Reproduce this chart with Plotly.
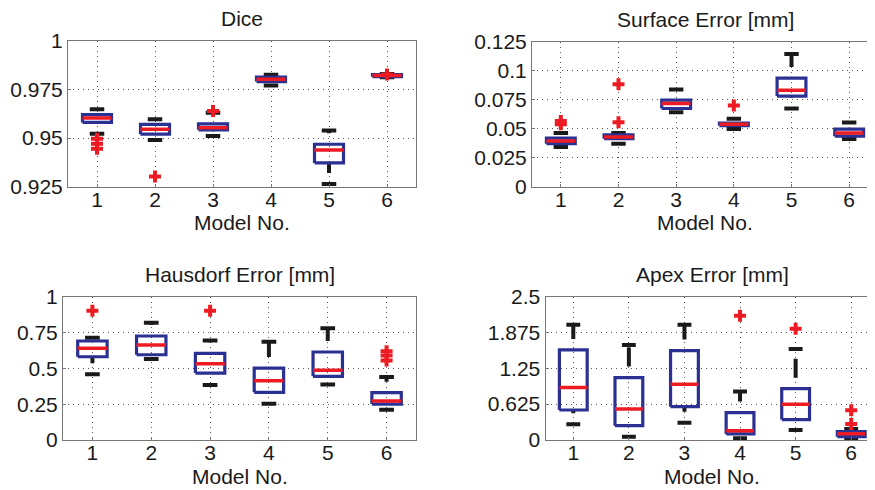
import plotly.graph_objects as go

W, H = 875, 490
OFF = 8  # page body margin of the rendered html (px)

models = [1, 2, 3, 4, 5, 6]

# ---- Dice ----
dice_q1 = [0.958, 0.952, 0.9542, 0.979, 0.9372, 0.9815]
dice_med = [0.9603, 0.9545, 0.9553, 0.9802, 0.9439, 0.9821]
dice_q3 = [0.962, 0.957, 0.9573, 0.9813, 0.9468, 0.9826]
dice_lo = [0.9522, 0.949, 0.951, 0.977, 0.9264, 0.9812]
dice_hi = [0.9648, 0.9597, 0.963, 0.9825, 0.9539, 0.9829]
dice_out = [[0.9496, 0.947, 0.9445], [0.9302], [0.9639], [], [], [0.9826]]
dice_ticks = [0.925, 0.95, 0.975, 1]
dice_ticklabels = ["0.925", "0.95", "0.975", "1"]

# ---- Surface Error ----
surf_q1 = [0.037, 0.0413, 0.0673, 0.0525, 0.078, 0.0435]
surf_med = [0.0393, 0.0427, 0.0716, 0.0537, 0.0831, 0.0463]
surf_q3 = [0.0419, 0.0447, 0.0745, 0.0548, 0.0935, 0.0495]
surf_lo = [0.0341, 0.037, 0.0641, 0.0497, 0.0673, 0.041]
surf_hi = [0.0462, 0.0462, 0.0837, 0.0586, 0.1142, 0.0552]
surf_out = [[0.0566, 0.0537], [0.0883, 0.0554], [], [0.0699], [], []]
surf_ticks = [0, 0.025, 0.05, 0.075, 0.1, 0.125]
surf_ticklabels = ["0", "0.025", "0.05", "0.075", "0.1", "0.125"]

# ---- Hausdorf Error ----
haus_q1 = [0.581, 0.595, 0.467, 0.333, 0.444, 0.251]
haus_med = [0.6395, 0.663, 0.5326, 0.414, 0.486, 0.272]
haus_q3 = [0.691, 0.7256, 0.605, 0.502, 0.614, 0.330]
haus_lo = [0.458, 0.565, 0.384, 0.2535, 0.388, 0.2116]
haus_hi = [0.714, 0.819, 0.695, 0.686, 0.779, 0.44]
haus_out = [[0.902], [], [0.902], [], [], [0.62, 0.59, 0.555]]
haus_ticks = [0, 0.25, 0.5, 0.75, 1]
haus_ticklabels = ["0", "0.25", "0.5", "0.75", "1"]

# ---- Apex Error ----
apex_q1 = [0.523, 0.25, 0.581, 0.105, 0.355, 0.058]
apex_med = [0.913, 0.541, 0.971, 0.163, 0.622, 0.11]
apex_q3 = [1.57, 1.087, 1.558, 0.477, 0.895, 0.145]
apex_lo = [0.273, 0.058, 0.302, 0.029, 0.174, 0.02]
apex_hi = [2.006, 1.657, 2.006, 0.843, 1.587, 0.19]
apex_out = [[], [], [], [2.163], [1.936], [0.52, 0.28]]
apex_ticks = [0, 0.625, 1.25, 1.875, 2.5]
apex_ticklabels = ["0", "0.625", "1.25", "1.875", "2.5"]

titles = ["Dice", "Surface Error [mm]", "Hausdorf Error [mm]", "Apex Error [mm]"]
xlabel = "Model No."

BLUE = "#2b3192"
RED = "#ed1c24"
BLACK = "#1a1a1a"
GRID = "#555555"
AXIS = "#777777"
FONT = "Arial, Liberation Sans, Helvetica, sans-serif"

# axes boxes in screen pixels (left, right), (top, bottom)
panels = [
    dict(q1=dice_q1, med=dice_med, q3=dice_q3, lo=dice_lo, hi=dice_hi, out=dice_out,
         ticks=dice_ticks, labels=dice_ticklabels, yr=[0.925, 1.0],
         xpx=(68, 416), ypx=(40.7, 186.7)),
    dict(q1=surf_q1, med=surf_med, q3=surf_q3, lo=surf_lo, hi=surf_hi, out=surf_out,
         ticks=surf_ticks, labels=surf_ticklabels, yr=[0, 0.125],
         xpx=(532, 878), ypx=(41.5, 186.7)),
    dict(q1=haus_q1, med=haus_med, q3=haus_q3, lo=haus_lo, hi=haus_hi, out=haus_out,
         ticks=haus_ticks, labels=haus_ticklabels, yr=[0, 1.0],
         xpx=(63, 416), ypx=(296.7, 440)),
    dict(q1=apex_q1, med=apex_med, q3=apex_q3, lo=apex_lo, hi=apex_hi, out=apex_out,
         ticks=apex_ticks, labels=apex_ticklabels, yr=[0, 2.5],
         xpx=(545.5, 879), ypx=(296.5, 440)),
]

BW = 0.25   # box half width
CW = 0.125  # cap half width
WHISKER_DASH = "0px,11px,19px,11px"

fig = go.Figure()
layout = dict(
    template="none",
    width=W, height=H,
    margin=dict(l=0, r=0, t=0, b=0, pad=0),
    paper_bgcolor="white", plot_bgcolor="white",
    showlegend=False,
    font=dict(family=FONT, size=21, color=BLACK),
    annotations=[],
)

for k, p in enumerate(panels):
    sfx = "" if k == 0 else str(k + 1)
    xa, ya = "x" + sfx, "y" + sfx

    # whiskers (upper: from q3 to upper adjacent; lower: from lower adjacent to q1)
    wx, wy = [], []
    for i, m in enumerate(models):
        wx += [m, m, None, m, m, None]
        wy += [p["q3"][i], p["hi"][i], None, p["lo"][i], p["q1"][i], None]
    fig.add_trace(go.Scatter(x=wx, y=wy, xaxis=xa, yaxis=ya, mode="lines",
                             line=dict(color=BLACK, width=4, dash=WHISKER_DASH),
                             hoverinfo="skip"))
    # caps
    cx, cy = [], []
    for i, m in enumerate(models):
        for v in (p["hi"][i], p["lo"][i]):
            cx += [m - CW, m + CW, None]
            cy += [v, v, None]
    fig.add_trace(go.Scatter(x=cx, y=cy, xaxis=xa, yaxis=ya, mode="lines",
                             line=dict(color=BLACK, width=4), hoverinfo="skip"))
    # boxes
    bx, by = [], []
    for i, m in enumerate(models):
        bx += [m - BW, m + BW, m + BW, m - BW, m - BW, None]
        by += [p["q1"][i], p["q1"][i], p["q3"][i], p["q3"][i], p["q1"][i], None]
    fig.add_trace(go.Scatter(x=bx, y=by, xaxis=xa, yaxis=ya, mode="lines",
                             line=dict(color=BLUE, width=3.2), hoverinfo="skip"))
    # medians
    mx, my = [], []
    for i, m in enumerate(models):
        mx += [m - BW, m + BW, None]
        my += [p["med"][i], p["med"][i], None]
    fig.add_trace(go.Scatter(x=mx, y=my, xaxis=xa, yaxis=ya, mode="lines",
                             line=dict(color=RED, width=3.5), hoverinfo="skip"))
    # outliers
    ox, oy = [], []
    for i, m in enumerate(models):
        for v in p["out"][i]:
            ox.append(m)
            oy.append(v)
    fig.add_trace(go.Scatter(x=ox, y=oy, xaxis=xa, yaxis=ya, mode="markers",
                             marker=dict(symbol="cross", size=10, color=RED,
                                         line=dict(width=0)),
                             hoverinfo="skip"))

    x0, x1 = p["xpx"][0] - OFF, p["xpx"][1] - OFF
    y0, y1 = p["ypx"][0] - OFF, p["ypx"][1] - OFF
    layout["xaxis" + sfx] = dict(
        domain=[x0 / W, x1 / W], anchor=ya, range=[0.5, 6.5], automargin=False,
        tickmode="array", tickvals=models, ticktext=[str(m) for m in models],
        showgrid=True, gridcolor=GRID, gridwidth=1, griddash="1px,4px",
        showline=True, linecolor=AXIS, linewidth=1, mirror=True,
        ticks="inside", ticklen=3, tickcolor=AXIS, ticklabelstandoff=-6,
        tickfont=dict(size=21, color=BLACK), zeroline=False, fixedrange=True,
    )
    layout["yaxis" + sfx] = dict(
        domain=[1 - y1 / H, 1 - y0 / H], anchor=xa, range=p["yr"], automargin=False,
        tickmode="array", tickvals=p["ticks"], ticktext=p["labels"],
        showgrid=True, gridcolor=GRID, gridwidth=1, griddash="1px,4px",
        showline=True, linecolor=AXIS, linewidth=1, mirror=True,
        ticks="inside", ticklen=3, tickcolor=AXIS,
        tickfont=dict(size=21, color=BLACK), zeroline=False, fixedrange=True,
    )

    cxp = ((x0 + x1) / 2) / W
    ty = y0 - 22
    ly = y1 + 36
    layout["annotations"].append(dict(
        text=titles[k], x=cxp, y=1 - ty / H, xref="paper", yref="paper",
        xanchor="center", yanchor="middle", showarrow=False,
        font=dict(size=21, color=BLACK)))
    layout["annotations"].append(dict(
        text=xlabel, x=cxp, y=1 - ly / H, xref="paper", yref="paper",
        xanchor="center", yanchor="middle", showarrow=False,
        font=dict(size=21, color=BLACK)))

fig.update_layout(**layout)
fig.write_html("out.html")
